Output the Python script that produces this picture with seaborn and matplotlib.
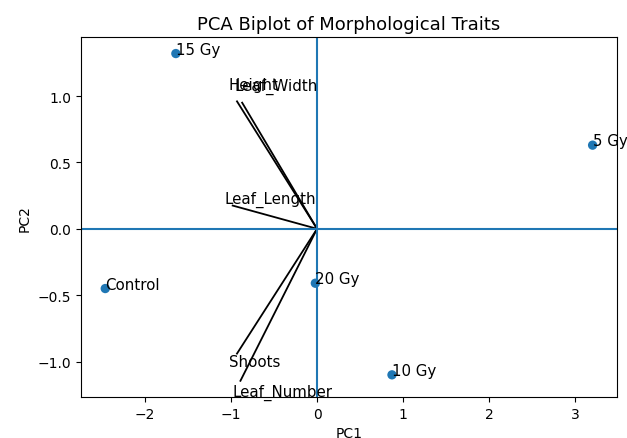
import matplotlib
matplotlib.use("Agg")
import matplotlib.pyplot as plt
import seaborn as sns
import pandas as pd

# PCA scores per treatment
treatments = ["Control", "5 Gy", "10 Gy", "15 Gy", "20 Gy"]
pc1_scores = [-2.46, 3.20, 0.87, -1.64, -0.02]
pc2_scores = [-0.45, 0.63, -1.10, 1.32, -0.41]

# Loadings of the morphological traits
traits = ["Height", "Leaf_Width", "Leaf_Length", "Shoots", "Leaf_Number"]
pc1_loadings = [-0.93, -0.87, -0.98, -0.93, -0.89]
pc2_loadings = [0.96, 0.95, 0.175, -0.94, -1.145]

scores = pd.DataFrame({"PC1": pc1_scores, "PC2": pc2_scores, "label": treatments})

fig, ax = plt.subplots(figsize=(6.27, 4.39), dpi=100)
fig.subplots_adjust(left=0.129, right=0.984, bottom=0.093, top=0.913)

sns.scatterplot(data=scores, x="PC1", y="PC2", ax=ax, s=45, edgecolor="none", color="C0")
for _, r in scores.iterrows():
    ax.text(r["PC1"], r["PC2"], r["label"], fontsize=10.8)

# trait vectors
for name, lx, ly in zip(traits, pc1_loadings, pc2_loadings):
    ax.plot([0, lx], [0, ly], color="black", linewidth=1.3)
    ax.text(lx * 1.1, ly * 1.1, name, fontsize=10.8)

ax.axhline(0, color="C0", linewidth=1.5)
ax.axvline(0, color="C0", linewidth=1.5)

ax.set_title("PCA Biplot of Morphological Traits", fontsize=13)
ax.set_xlabel("PC1")
ax.set_ylabel("PC2")

plt.savefig("out.png", dpi=100)
